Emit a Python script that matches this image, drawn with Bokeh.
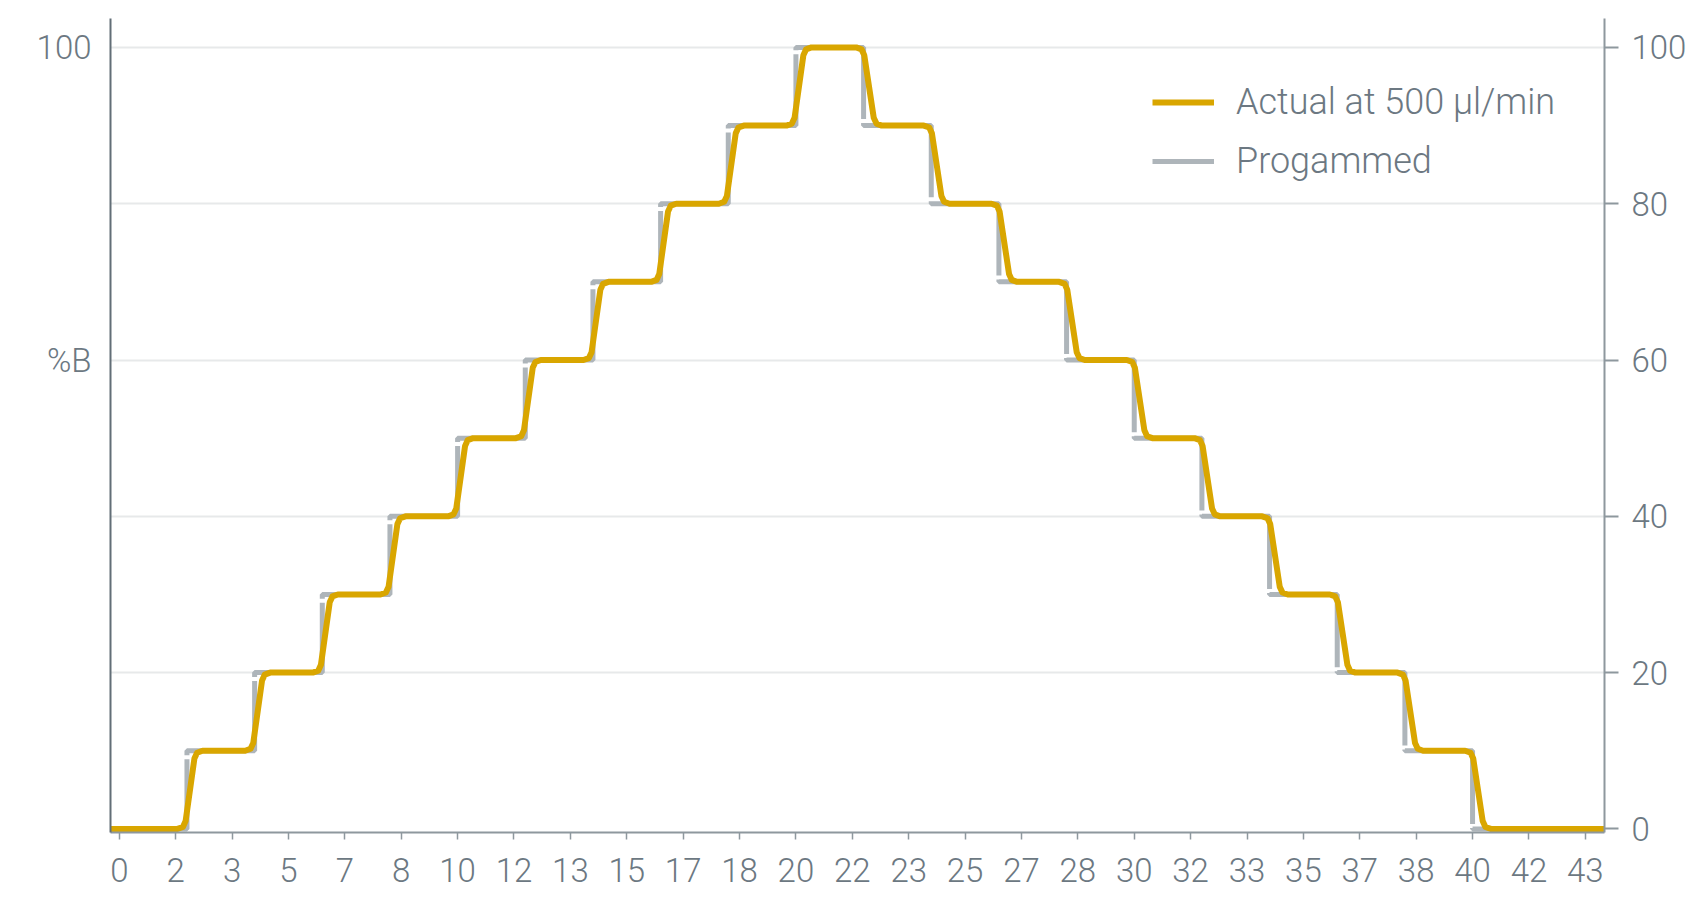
from bokeh.plotting import figure
from bokeh.models import FixedTicker, LinearAxis, Range1d, Legend, LegendItem
from bokeh.embed import file_html
from bokeh.resources import INLINE

# ---- data ----
# programmed gradient: time (min) where each %B level starts
prog_time = [-0.14, 2, 4, 6, 8, 10, 12, 14, 16, 18, 20,
             22, 24, 26, 28, 30, 32, 34, 36, 38, 40, 43.9]
prog_pct = [0, 10, 20, 30, 40, 50, 60, 70, 80, 90, 100,
            90, 80, 70, 60, 50, 40, 30, 20, 10, 0, 0]

actual_time = [-0.26,
               1.72, 1.88, 1.96, 2.22, 2.30, 2.46,
               3.72, 3.88, 3.96, 4.22, 4.30, 4.46,
               5.72, 5.88, 5.96, 6.22, 6.30, 6.46,
               7.72, 7.88, 7.96, 8.22, 8.30, 8.46,
               9.72, 9.88, 9.96, 10.22, 10.30, 10.46,
               11.72, 11.88, 11.96, 12.22, 12.30, 12.46,
               13.72, 13.88, 13.96, 14.22, 14.30, 14.46,
               15.72, 15.88, 15.96, 16.22, 16.30, 16.46,
               17.72, 17.88, 17.96, 18.22, 18.30, 18.46,
               19.72, 19.88, 19.96, 20.22, 20.30, 20.46,
               21.78, 21.94, 22.02, 22.30, 22.38, 22.54,
               23.78, 23.94, 24.02, 24.30, 24.38, 24.54,
               25.78, 25.94, 26.02, 26.30, 26.38, 26.54,
               27.78, 27.94, 28.02, 28.30, 28.38, 28.54,
               29.78, 29.94, 30.02, 30.30, 30.38, 30.54,
               31.78, 31.94, 32.02, 32.30, 32.38, 32.54,
               33.78, 33.94, 34.02, 34.30, 34.38, 34.54,
               35.78, 35.94, 36.02, 36.30, 36.38, 36.54,
               37.78, 37.94, 38.02, 38.30, 38.38, 38.54,
               39.78, 39.94, 40.02, 40.30, 40.38, 40.54,
               43.9]
actual_pct = [0,
              0, 0.25, 1, 9, 9.75, 10,
              10, 10.25, 11, 19, 19.75, 20,
              20, 20.25, 21, 29, 29.75, 30,
              30, 30.25, 31, 39, 39.75, 40,
              40, 40.25, 41, 49, 49.75, 50,
              50, 50.25, 51, 59, 59.75, 60,
              60, 60.25, 61, 69, 69.75, 70,
              70, 70.25, 71, 79, 79.75, 80,
              80, 80.25, 81, 89, 89.75, 90,
              90, 90.25, 91, 99, 99.75, 100,
              100, 99.75, 99, 91, 90.25, 90,
              90, 89.75, 89, 81, 80.25, 80,
              80, 79.75, 79, 71, 70.25, 70,
              70, 69.75, 69, 61, 60.25, 60,
              60, 59.75, 59, 51, 50.25, 50,
              50, 49.75, 49, 41, 40.25, 40,
              40, 39.75, 39, 31, 30.25, 30,
              30, 29.75, 29, 21, 20.25, 20,
              20, 19.75, 19, 11, 10.25, 10,
              10, 9.75, 9, 1, 0.25, 0,
              0]

x_tick_pos = [i * 5 / 3 for i in range(27)]
x_tick_labels = ["0", "2", "3", "5", "7", "8", "10", "12", "13", "15", "17", "18",
                 "20", "22", "23", "25", "27", "28", "30", "32", "33", "35", "37",
                 "38", "40", "42", "43"]
y_right_ticks = [0, 20, 40, 60, 80, 100]
y_left_ticks = [60, 100]
y_left_labels = ["%B", "100"]
series_labels = ["Actual at 500 \u00b5l/min", "Progammed"]

# ---- styles ----
GOLD = "#d9a600"
GRAY = "#aeb5ba"
TEXT = "#6c7882"
AXIS_DARK = "#626e77"
AXIS_LIGHT = "#8e989e"
GRID = "#e7e9ea"
FONT = "'Roboto Light', Roboto"

p = figure(width=1700, height=896,
           x_range=Range1d(-0.26, 43.9), y_range=Range1d(-0.46, 103.7),
           output_backend="svg", toolbar_location=None,
           min_border_left=110, min_border_right=96,
           min_border_top=18, min_border_bottom=64)
p.outline_line_color = None
p.background_fill_color = "white"

# grid
p.xgrid.visible = False
p.ygrid.ticker = FixedTicker(ticks=[20, 40, 60, 80, 100])
p.ygrid.grid_line_color = GRID
p.ygrid.grid_line_width = 2

# bottom axis
xa = p.xaxis[0]
xa.ticker = FixedTicker(ticks=x_tick_pos)
xa.major_label_overrides = {t: l for t, l in zip(x_tick_pos, x_tick_labels)}
xa.axis_line_color = AXIS_LIGHT
xa.axis_line_width = 2
xa.major_tick_line_color = AXIS_LIGHT
xa.major_tick_line_width = 1.5
xa.major_tick_out = 7
xa.major_tick_in = 0
xa.minor_tick_line_color = None
xa.major_label_standoff = 18
xa.major_label_text_font = FONT
xa.major_label_text_font_size = "33px"
xa.major_label_text_color = TEXT

# left axis
ya = p.yaxis[0]
ya.ticker = FixedTicker(ticks=y_left_ticks)
ya.major_label_overrides = {t: l for t, l in zip(y_left_ticks, y_left_labels)}
ya.axis_line_color = AXIS_DARK
ya.axis_line_width = 2
ya.major_tick_line_color = None
ya.major_tick_out = 0
ya.major_tick_in = 0
ya.minor_tick_line_color = None
ya.major_label_standoff = 19
ya.major_label_text_font = FONT
ya.major_label_text_font_size = "33px"
ya.major_label_text_color = TEXT

# right axis
ra = LinearAxis(ticker=FixedTicker(ticks=y_right_ticks))
ra.axis_line_color = AXIS_LIGHT
ra.axis_line_width = 2
ra.major_tick_line_color = AXIS_LIGHT
ra.major_tick_line_width = 2
ra.major_tick_out = 14
ra.major_tick_in = 0
ra.minor_tick_line_color = None
ra.major_label_standoff = 13
ra.major_label_text_font = FONT
ra.major_label_text_font_size = "33px"
ra.major_label_text_color = TEXT
p.add_layout(ra, "right")

# series
r_prog = p.step(prog_time, prog_pct, mode="after", line_color=GRAY, line_width=5,
                line_dash="142 4")
r_act = p.line(actual_time, actual_pct, line_color=GOLD, line_width=6,
               line_join="round")

legend = Legend(items=[LegendItem(label=series_labels[0], renderers=[r_act]),
                       LegendItem(label=series_labels[1], renderers=[r_prog])],
                location=(1042, 650))
legend.glyph_width = 62
legend.glyph_height = 42
legend.label_height = 42
legend.spacing = 17
legend.padding = 0
legend.margin = 0
legend.label_standoff = 22
legend.label_text_font = FONT
legend.label_text_font_size = "36px"
legend.label_text_color = TEXT
legend.border_line_alpha = 0
legend.background_fill_alpha = 0
p.add_layout(legend)

open("out.html", "w").write(file_html(p, INLINE))
